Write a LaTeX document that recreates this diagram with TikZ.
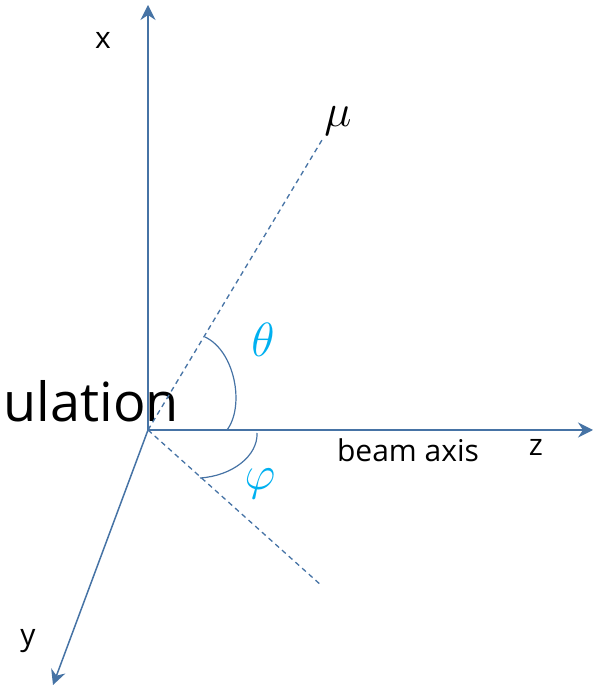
\RequirePackage{fix-cm}
\documentclass[tikz,border=0pt]{standalone}
\usepackage{fontspec}
\setmainfont{Open Sans}
\usetikzlibrary{arrows.meta}
\definecolor{axisblue}{RGB}{70,115,165}
\definecolor{anglecyan}{RGB}{0,176,240}
\begin{document}
\begin{tikzpicture}[x=1pt, y=1pt,
    axis/.style={axisblue, line width=1.5pt, -{Stealth[length=15pt, width=15pt, inset=5pt]}},
    guide/.style={axisblue, line width=1.3pt, dash pattern=on 5pt off 4pt},
    anglearc/.style={axisblue, line width=1.2pt},
    axislabel/.style={font=\fontsize{30}{30}\selectfont, inner sep=0pt},
    anglelabel/.style={anglecyan, font=\fontsize{48}{48}\selectfont, inner sep=0pt}]
    \useasboundingbox (0, 0) rectangle (601, 686);

    % Origin and axis ends
    \coordinate (O) at (148, 256);
    \coordinate (xtip) at (148, 681);
    \coordinate (ztip) at (593, 256);
    \coordinate (ytip) at (53, 1);
    \coordinate (muend) at (322, 546);
    \coordinate (projend) at (322, 100);

    % Clipped title text
    \node[font=\fontsize{54}{54}\selectfont, inner sep=0pt, anchor=base east] (title) at (179, 264) {ulation};

    % Axes
    \draw[axis] (O) -- (xtip);
    \draw[axis] (O) -- (ztip);
    \draw[axis] (O) -- (ytip);
    \node[axislabel] (xlabel) at (103, 646) {x};
    \node[axislabel] (zlabel) at (536, 239) {z};
    \node[axislabel] (ylabel) at (28, 45) {y};
    \node[axislabel] (beam) at (408, 236) {beam axis};

    % Muon direction and its projection
    \draw[guide] (O) -- (muend);
    \draw[guide] (O) -- (projend);
    \node[font=\fontsize{46}{46}\selectfont, inner sep=0pt] (mu) at (338, 565) {$\mu$};

    % Angles
    \coordinate (thetastart) at (205, 349);
    \coordinate (thetaend) at (227, 256);
    \draw[anglearc] (thetastart) .. controls (235, 335) and (245, 280) .. (thetaend);
    \node[anglelabel] (theta) at (263, 346) {$\theta$};
    \coordinate (phistart) at (257, 253);
    \coordinate (phiend) at (200, 208);
    \draw[anglearc] (phistart) .. controls (258, 230) and (232, 210) .. (phiend);
    \node[anglelabel] (phi) at (260, 202) {$\varphi$};
\end{tikzpicture}
\end{document}
